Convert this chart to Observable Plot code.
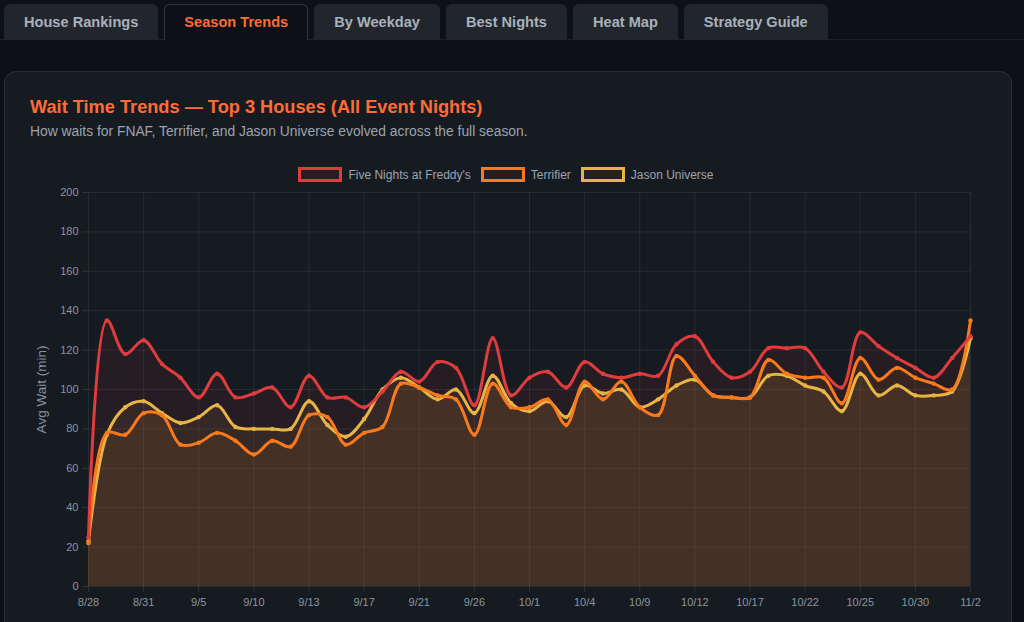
<!DOCTYPE html>
<html>
<head>
<meta charset="utf-8">
<script src="https://cdn.jsdelivr.net/npm/d3@7"></script>
<script src="https://cdn.jsdelivr.net/npm/@observablehq/plot@0.6"></script>
<style>
  html, body { margin: 0; padding: 0; }
  body { width: 1024px; height: 622px; overflow: hidden; background: #0d1117; font-family: "Liberation Sans", Arial, Helvetica, sans-serif; position: relative; }
  #tabs { position: absolute; left: 0; top: 0; width: 1024px; height: 40px; border-bottom: 1px solid #1c2128; box-sizing: border-box; display: flex; gap: 6px; padding-left: 4px; padding-top: 4px; }
  .tab { height: 36px; box-sizing: border-box; padding: 0 20px; background: #21262d; color: #a9b1bb; font-weight: bold; font-size: 14.6px; line-height: 36px; border-radius: 6px 6px 0 0; white-space: nowrap; }
  .tab.active { background: #0d1117; color: #ff6b35; border: 1px solid #30363d; border-bottom: none; line-height: 34px; padding: 0 19px; }
  #card { position: absolute; left: 4px; top: 71px; width: 1008px; height: 600px; background: #161b22; border: 1px solid #2a3038; border-radius: 12px; box-sizing: border-box; }
  #title { position: absolute; left: 30px; top: 97px; font-size: 18.2px; font-weight: bold; color: #ff6b35; white-space: nowrap; }
  #subtitle { position: absolute; left: 30px; top: 123px; font-size: 13.85px; color: #9ba3ad; white-space: nowrap; }
  #legend { position: absolute; left: 0; width: 1012px; top: 167px; display: flex; justify-content: center; align-items: center; gap: 10px; font-size: 12px; color: #9ba3ad; }
  .item { display: flex; align-items: center; gap: 6px; }
  .box { width: 44px; height: 15px; box-sizing: border-box; border: 3px solid; background: rgba(60,40,40,0.35); }
  #chart { position: absolute; left: 0; top: 182px; }
  #chart g[aria-label="y-axis label"] text { font-size: 13.5px; }
</style>
</head>
<body>
<div id="tabs"></div>
<div id="card"></div>
<div id="title">Wait Time Trends — Top 3 Houses (All Event Nights)</div>
<div id="subtitle">How waits for FNAF, Terrifier, and Jason Universe evolved across the full season.</div>
<div id="legend"></div>
<div id="chart"></div>
<script>
const tabLabels = ["House Rankings", "Season Trends", "By Weekday", "Best Nights", "Heat Map", "Strategy Guide"];
const activeTab = "Season Trends";

const dates = ["8/28","8/29","8/30","8/31","9/1","9/4","9/5","9/6","9/7","9/10","9/11","9/12","9/13","9/14","9/16","9/17","9/19","9/20","9/21","9/24","9/25","9/26","9/27","9/28","10/1","10/2","10/3","10/4","10/5","10/8","10/9","10/10","10/11","10/12","10/15","10/16","10/17","10/18","10/19","10/22","10/23","10/24","10/25","10/26","10/29","10/30","10/31","11/1","11/2"];
const xTickLabels = ["8/28","8/31","9/5","9/10","9/13","9/17","9/21","9/26","10/1","10/4","10/9","10/12","10/17","10/22","10/25","10/30","11/2"];
const yTicks = [0,20,40,60,80,100,120,140,160,180,200];

const houses = ["Five Nights at Freddy's", "Terrifier", "Jason Universe"];
const colors = ["#e03c3c", "#f97a1c", "#e8b545"];

const fnaf = [25,135,118,125,113,106,96,108,96,98,101,91,107,96,96,91,99,109,104,114,111,92,126,97,106,109,101,114,108,106,108,107,123,127,114,106,109,121,121,121,109,101,129,122,116,111,106,116,127];
const terrifier = [22,78,77,88,87,72,73,78,74,67,74,71,87,86,72,78,81,103,101,97,95,77,103,91,91,95,82,104,95,104,91,87,117,107,97,96,96,115,108,106,106,93,116,105,111,106,103,100,135];
const jason = [23,77,91,94,88,83,86,92,81,80,80,80,94,82,76,85,100,106,101,95,100,88,107,93,89,94,86,102,98,100,91,95,102,105,97,96,96,107,107,102,99,89,108,97,102,97,97,99,126];

const seriesValues = [fnaf, terrifier, jason];

// tabs
const tabsEl = document.getElementById("tabs");
tabLabels.forEach(t => {
  const d = document.createElement("div");
  d.className = "tab" + (t === activeTab ? " active" : "");
  d.textContent = t;
  tabsEl.appendChild(d);
});

// legend
const legendEl = document.getElementById("legend");
houses.forEach((h, i) => {
  const it = document.createElement("div");
  it.className = "item";
  const b = document.createElement("div");
  b.className = "box";
  b.style.borderColor = colors[i];
  const s = document.createElement("span");
  s.textContent = h;
  it.appendChild(b); it.appendChild(s);
  legendEl.appendChild(it);
});

const table = [];
houses.forEach((h, i) => {
  seriesValues[i].forEach((v, j) => table.push({house: h, idx: j, date: dates[j], value: v}));
});

const xTickIdx = xTickLabels.map(l => dates.indexOf(l));
const fmt = i => dates[i];

const curve = "catmull-rom";
const gridStroke = "#ffffff";
const marks = [
  Plot.gridY(yTicks, {stroke: gridStroke, strokeOpacity: 0.07}),
  Plot.gridX(xTickIdx, {stroke: gridStroke, strokeOpacity: 0.07, y1: 0, y2: 200}),
];
const fillOps = [0.08, 0.085, 0.08];
houses.forEach((h, i) => {
  marks.push(Plot.areaY(table.filter(d => d.house === h), {x: "idx", y: "value", fill: colors[i], fillOpacity: fillOps[i], curve}));
});
for (let i = houses.length - 1; i >= 0; i--) {
  const rows = table.filter(d => d.house === houses[i]);
  marks.push(Plot.lineY(rows, {x: "idx", y: "value", stroke: colors[i], strokeWidth: 3, curve}));
  marks.push(Plot.dot(rows, {x: "idx", y: "value", fill: colors[i], r: 2.2}));
}
marks.push(
  Plot.axisY(yTicks, {tickSize: 6, tickPadding: 4, stroke: gridStroke, strokeOpacity: 0.1, fill: "#8b949e", fontSize: 11, label: "Avg Wait (min)", labelAnchor: "center", labelArrow: "none", labelOffset: 52}),
  Plot.axisX(xTickIdx, {tickSize: 6, tickPadding: 6, tickFormat: fmt, stroke: gridStroke, strokeOpacity: 0.1, fill: "#8b949e", fontSize: 11, label: null})
);

const chart = Plot.plot({
  width: 1000,
  height: 440,
  marginLeft: 88,
  marginRight: 30,
  marginTop: 10,
  marginBottom: 36,
  style: {background: "transparent", color: "#8b949e", fontFamily: "'Liberation Sans', Arial, sans-serif", fontSize: "12px"},
  x: {type: "linear", domain: [0, dates.length - 1]},
  y: {domain: [0, 200]},
  marks
});
document.getElementById("chart").appendChild(chart);
</script>
</body>
</html>
